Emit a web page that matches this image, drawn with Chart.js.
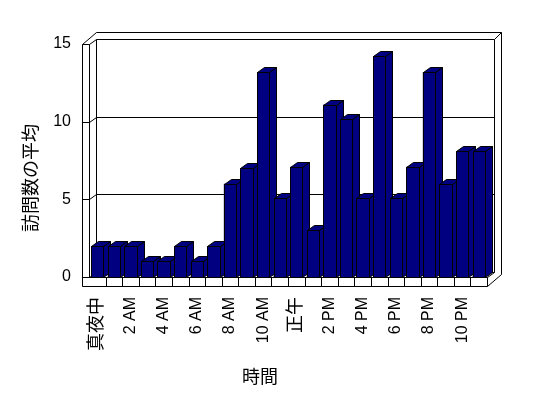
<!DOCTYPE html>
<html lang="ja">
<head>
<meta charset="utf-8">
<title>時間別の訪問数の平均</title>
<script src="https://cdn.jsdelivr.net/npm/chart.js@4/dist/chart.umd.min.js"></script>
<style>
  html, body { margin: 0; padding: 0; background: #fff; }
  canvas { display: block; }
</style>
</head>
<body>
<canvas id="visitChart" width="548" height="398"></canvas>
<script>
// 時間ごとの訪問数の平均（3D 縦棒）
const hours = [
    '真夜中', '1 AM', '2 AM', '3 AM', '4 AM', '5 AM', '6 AM', '7 AM', '8 AM', '9 AM', '10 AM', '11 AM',
    '正午', '1 PM', '2 PM', '3 PM', '4 PM', '5 PM', '6 PM', '7 PM', '8 PM', '9 PM', '10 PM', '11 PM'
];
const visits = [2, 2, 2, 1, 1, 2, 1, 2, 6, 7, 13.2, 5.1, 7.1, 3, 11.1, 10.2, 5.1, 14.2, 5.1, 7.1, 13.2, 6, 8.1, 8.1];
const yTicks = [0, 5, 10, 15];
const yTitle = '訪問数の平均';
const xTitle = '時間';

// 奥行きと壁の厚さ
const DX = 7, DY = -5, WALL = 7, FLOOR = 9;
const BAR_COLOR = '#000080';
const FONT = "'Liberation Sans', 'Noto Sans CJK JP', sans-serif";

function poly(ctx, pts) {
    ctx.beginPath();
    pts.forEach((p, i) => i === 0 ? ctx.moveTo(p[0], p[1]) : ctx.lineTo(p[0], p[1]));
    ctx.closePath();
    ctx.fill();
    ctx.stroke();
}

function line(ctx, pts) {
    ctx.beginPath();
    pts.forEach((p, i) => i === 0 ? ctx.moveTo(p[0], p[1]) : ctx.lineTo(p[0], p[1]));
    ctx.stroke();
}

// 壁・床・目盛線
const box3d = {
    id: 'box3d',
    beforeDatasetsDraw(chart) {
        const { ctx, chartArea: a, scales: { x, y } } = chart;
        const L = Math.round(a.left), R = Math.round(a.right);
        const T = Math.round(y.getPixelForValue(15)), B = Math.round(y.getPixelForValue(0));
        const ox = DX + WALL, oy = DY - WALL;
        ctx.save();
        ctx.translate(0.5, 0.5);
        ctx.lineWidth = 1;
        ctx.strokeStyle = '#000';
        ctx.fillStyle = '#fff';

        // 外枠
        poly(ctx, [
            [L - WALL, B + FLOOR], [L - WALL, T], [L - WALL + ox, T + oy],
            [R + ox, T + oy], [R + ox, B + oy + FLOOR], [R, B + FLOOR]
        ]);

        // 左壁と奥の壁
        line(ctx, [[L, T], [L, B]]);
        line(ctx, [[L + DX, T + DY], [L + DX, B + DY]]);
        line(ctx, [[R + DX, T + DY], [R + DX, B + DY], [R, B]]);
        line(ctx, [[R + DX, T + DY], [R + ox, T + oy]]);

        // 目盛線（左壁の前面 → 側面 → 奥の壁）
        yTicks.forEach(v => {
            const yy = Math.round(y.getPixelForValue(v));
            line(ctx, [[L - WALL, yy], [L, yy], [L + DX, yy + DY], [R + DX, yy + DY]]);
        });

        // 床の前面
        line(ctx, [[L - WALL, B], [R, B], [R, B + FLOOR]]);
        const cw = (R - L) / hours.length;
        for (let i = 1; i < hours.length; i++) {
            const xx = Math.round(L + i * cw);
            line(ctx, [[xx, B], [xx, B + FLOOR]]);
        }
        ctx.restore();
    },
    afterDatasetsDraw(chart) {
        const ctx = chart.ctx;
        const meta = chart.getDatasetMeta(0);
        ctx.save();
        ctx.translate(0.5, 0.5);
        ctx.lineWidth = 1;
        ctx.strokeStyle = '#000';
        ctx.fillStyle = BAR_COLOR;
        meta.data.forEach(bar => {
            const { x, y, base, width } = bar.getProps(['x', 'y', 'base', 'width'], true);
            const l = Math.round(x - width / 2), r = Math.round(x + width / 2);
            const t = Math.round(y), b = Math.round(base);
            poly(ctx, [[r, t], [r + DX, t + DY], [r + DX, b + DY], [r, b]]);
            poly(ctx, [[l, t], [l + DX, t + DY], [r + DX, t + DY], [r, t]]);
            poly(ctx, [[l, t], [r, t], [r, b], [l, b]]);
        });
        ctx.restore();
    },
    afterDraw(chart) {
        const ctx = chart.ctx;
        ctx.save();
        ctx.fillStyle = '#000';
        ctx.font = "18px 'Noto Sans CJK JP', sans-serif";
        ctx.textAlign = 'center';
        ctx.textBaseline = 'middle';
        ctx.fillText(xTitle, 260, 376);
        ctx.translate(30, 178);
        ctx.rotate(-Math.PI / 2);
        ctx.fillText(yTitle, 0, 0);
        ctx.restore();
    }
};

Chart.defaults.font.family = FONT;
Chart.defaults.font.size = 16;
Chart.defaults.color = '#000';

new Chart(document.getElementById('visitChart'), {
    type: 'bar',
    data: {
        labels: hours,
        datasets: [{
            label: yTitle,
            data: visits,
            backgroundColor: BAR_COLOR,
            borderWidth: 0,
            categoryPercentage: 1,
            barPercentage: 0.74
        }]
    },
    options: {
        responsive: false,
        animation: false,
        devicePixelRatio: 1,
        layout: { padding: { left: 0, top: 44, right: 61, bottom: 0 } },
        plugins: {
            legend: { display: false },
            tooltip: { enabled: false }
        },
        scales: {
            x: {
                grid: { display: false, drawTicks: false },
                border: { display: false },
                ticks: {
                    autoSkip: false,
                    maxRotation: 90,
                    minRotation: 90,
                    padding: 20,
                    font: ctx => ({ size: /[^\x00-\x7f]/.test(hours[ctx.index] || '') ? 18 : 16 }),
                    callback: (val, i) => i % 2 === 0 ? hours[i] : ''
                },
                afterFit: scale => { scale.height = 121; }
            },
            y: {
                min: 0,
                max: 15,
                grid: { display: false, drawTicks: false },
                border: { display: false },
                ticks: { stepSize: 5, padding: 18 },
                afterFit: scale => { scale.width = 89; }
            }
        }
    },
    plugins: [box3d]
});
</script>
</body>
</html>
